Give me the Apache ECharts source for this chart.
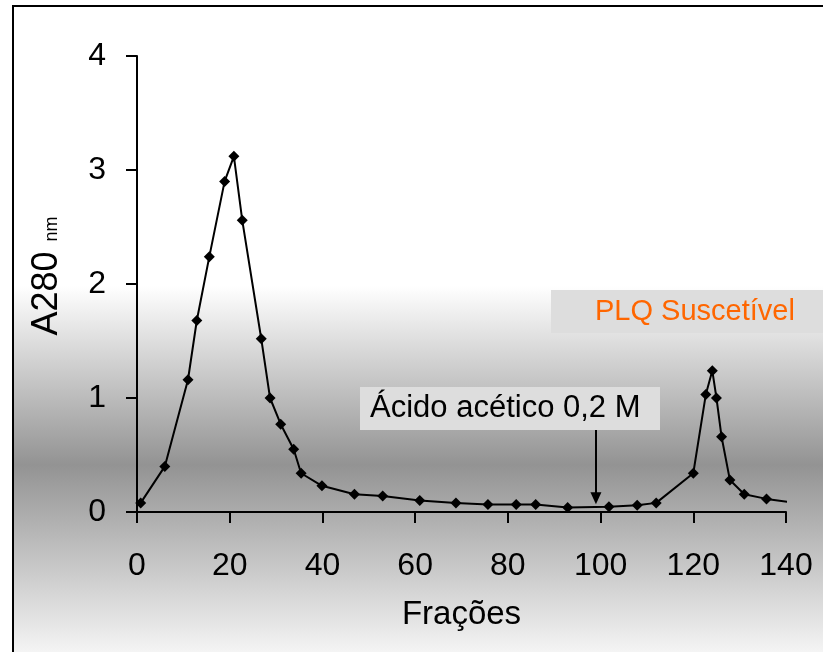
<!DOCTYPE html>
<html>
<head>
<meta charset="utf-8">
<title>A280 nm – Frações</title>
<script src="https://cdn.jsdelivr.net/npm/echarts@6/dist/echarts.min.js"></script>
<style>
  html, body { margin: 0; padding: 0; background: #ffffff; }
  #chart { width: 823px; height: 652px; }
</style>
</head>
<body>
<div id="chart"></div>
<script>
// Elution profile: fraction number vs absorbance at 280 nm
const fractions = [0.8, 6.0, 11.0, 12.9, 15.6, 18.9, 20.9, 22.7, 26.8, 28.7, 31.0, 33.8, 35.4,
  39.9, 46.9, 53.0, 61.0, 68.8, 75.7, 81.8, 86.0, 92.9, 101.8, 107.9, 112.0,
  120.0, 122.7, 124.1, 125.0, 126.1, 127.9, 131.0, 135.8, 141.2];
const absorbance = [0.08, 0.40, 1.16, 1.68, 2.24, 2.90, 3.12, 2.56, 1.52, 1.00, 0.77, 0.55, 0.34,
  0.23, 0.155, 0.14, 0.10, 0.08, 0.065, 0.065, 0.065, 0.04, 0.045, 0.06, 0.08,
  0.34, 1.03, 1.24, 1.00, 0.66, 0.28, 0.155, 0.115, 0.085];
// the last reading is drawn as line only, without a marker
const unmarkedLast = true;

// Acetic acid elution step
const elutionFraction = 99;
const arrowFrom = 0.72;
const arrowTo = 0.12;

const xTicks = { min: 0, max: 140, step: 20 };
const yTicks = { min: 0, max: 4, step: 1 };

const FONT = '"Liberation Sans", Arial, Helvetica, sans-serif';

const points = fractions.map((x, i) => {
  const item = { value: [x, absorbance[i]] };
  if (unmarkedLast && i === fractions.length - 1) item.symbol = 'none';
  return item;
});

const chart = echarts.init(document.getElementById('chart'), null, { renderer: 'canvas' });

chart.setOption({
  animation: false,
  backgroundColor: '#ffffff',
  textStyle: { fontFamily: FONT },
  graphic: [
    {
      type: 'rect', z: -10, silent: true,
      shape: { x: 13, y: 6, width: 900, height: 700 },
      style: {
        fill: {
          type: 'linear', x: 0, y: 0, x2: 0, y2: 1, global: false,
          colorStops: [
            { offset: 0, color: '#ffffff' },
            { offset: 0.40, color: '#ffffff' },
            { offset: 0.655, color: '#939393' },
            { offset: 0.93, color: '#f7f7f7' },
            { offset: 1, color: '#ffffff' }
          ]
        },
        stroke: '#000000',
        lineWidth: 2
      }
    },
    {
      type: 'text', z: 100, silent: true,
      left: 360, top: 387,
      style: {
        text: 'Ácido acético 0,2 M',
        font: '31px ' + FONT,
        fill: '#000000',
        backgroundColor: '#dddddd',
        padding: [6, 18, 6, 10],
        width: 272
      }
    },
    {
      type: 'text', z: 100, silent: true,
      left: 551, top: 290,
      style: {
        text: 'PLQ Suscetível',
        font: '29px ' + FONT,
        fill: '#ff6600',
        backgroundColor: '#dddddd',
        padding: [7, 40, 7, 44],
        width: 207
      }
    }
  ],
  grid: { left: 137, right: 37, top: 56, bottom: 140, containLabel: false },
  xAxis: {
    type: 'value',
    min: xTicks.min, max: xTicks.max, interval: xTicks.step,
    name: 'Frações',
    nameLocation: 'middle',
    nameGap: 86,
    nameTextStyle: { fontSize: 33, color: '#000000', fontFamily: FONT },
    axisLine: { lineStyle: { color: '#000000', width: 2 } },
    axisTick: { inside: false, length: 11, lineStyle: { color: '#000000', width: 2 } },
    axisLabel: { fontSize: 32, color: '#000000', margin: 38, fontFamily: FONT },
    splitLine: { show: false }
  },
  yAxis: {
    type: 'value',
    min: yTicks.min, max: yTicks.max, interval: yTicks.step,
    name: '{a|A280 }{b|nm}',
    nameLocation: 'middle',
    nameRotate: 90,
    nameGap: 72,
    nameTextStyle: {
      color: '#000000',
      fontFamily: FONT,
      rich: {
        a: { fontSize: 36, fontFamily: FONT, color: '#000000', verticalAlign: 'bottom', padding: [0, 0, 0, 16] },
        b: { fontSize: 18, fontFamily: FONT, color: '#000000', verticalAlign: 'bottom', padding: [0, 0, 4, 0] }
      }
    },
    axisLine: { show: true, lineStyle: { color: '#000000', width: 2 } },
    axisTick: { show: true, inside: false, length: 11, lineStyle: { color: '#000000', width: 2 } },
    axisLabel: { fontSize: 32, color: '#000000', margin: 31, fontFamily: FONT },
    splitLine: { show: false }
  },
  series: [
    {
      type: 'line',
      data: points,
      clip: false,
      symbol: 'diamond',
      symbolSize: 11,
      showAllSymbol: true,
      itemStyle: { color: '#000000' },
      lineStyle: { color: '#000000', width: 2 },
      markLine: {
        silent: true,
        symbol: ['none', 'triangle'],
        symbolSize: [11, 12],
        label: { show: false },
        lineStyle: { color: '#000000', width: 2, type: 'solid' },
        data: [[
          { coord: [elutionFraction, arrowFrom] },
          { coord: [elutionFraction, arrowTo] }
        ]]
      }
    }
  ]
});
</script>
</body>
</html>
